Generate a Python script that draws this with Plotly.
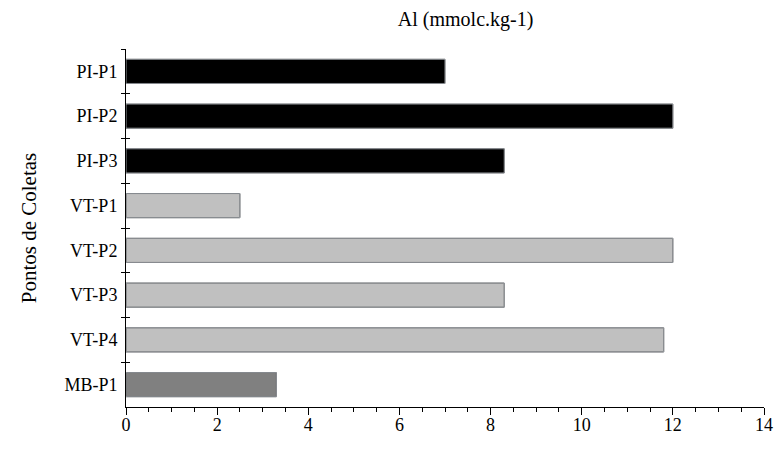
import plotly.graph_objects as go

categories = ["PI-P1", "PI-P2", "PI-P3", "VT-P1", "VT-P2", "VT-P3", "VT-P4", "MB-P1"]
values = [7.0, 12.0, 8.3, 2.5, 12.0, 8.3, 11.8, 3.3]
colors = ["#000000", "#000000", "#000000", "#c0c0c0", "#c0c0c0", "#c0c0c0", "#c0c0c0", "#808080"]
x_ticks = [0, 2, 4, 6, 8, 10, 12, 14]

font = "Liberation Serif, Times New Roman, serif"
n = len(categories)

fig = go.Figure()
fig.add_trace(go.Bar(
    x=values, y=categories, orientation="h",
    marker=dict(color=colors, line=dict(color="#2a2a2a", width=1)),
    width=0.54, hoverinfo="skip",
))
# invisible copy on overlaid axis for crossing ticks
fig.add_trace(go.Bar(
    x=values, y=categories, orientation="h", yaxis="y2",
    marker=dict(color="rgba(0,0,0,0)"), width=0.54, hoverinfo="skip",
))

fig.update_layout(
    width=776, height=454,
    margin=dict(l=126, r=12, t=49, b=47),
    paper_bgcolor="white", plot_bgcolor="white",
    showlegend=False,
    font=dict(family=font, size=16, color="black"),
    title=dict(text="Al (mmolc.kg-1)", x=0.6, xanchor="center", y=0.958, yanchor="middle",
               font=dict(family=font, size=20, color="black")),
    xaxis=dict(
        range=[0, 14], tickvals=x_ticks, showgrid=False, zeroline=False,
        showline=True, linecolor="black", linewidth=1, automargin=False,
        ticks="outside", ticklen=7, tickwidth=1, tickcolor="black",
        minor=dict(dtick=0.5, ticks="outside", ticklen=4, tickcolor="black", tickwidth=1),
        tickfont=dict(family=font, size=18), ticklabelstandoff=-6, fixedrange=True,
    ),
    yaxis=dict(
        type="category", categoryorder="array", categoryarray=categories,
        range=[n - 0.5, -0.5], showgrid=False, zeroline=False,
        showline=True, linecolor="black", linewidth=1, automargin=False,
        ticks="outside", ticklen=4, tickwidth=1, tickcolor="black",
        tickson="boundaries", ticklabelstandoff=4,
        title=dict(text="Pontos de Coletas", font=dict(family=font, size=21), standoff=22),
        tickfont=dict(family=font, size=18),
    ),
    yaxis2=dict(
        type="category", categoryorder="array", categoryarray=categories,
        range=[n - 0.5, -0.5], overlaying="y", side="left", anchor="x",
        showgrid=False, zeroline=False, showline=False, automargin=False,
        ticks="inside", ticklen=4, tickwidth=1, tickcolor="black",
        tickson="boundaries", showticklabels=False,
    ),
)

fig.write_html("out.html")
